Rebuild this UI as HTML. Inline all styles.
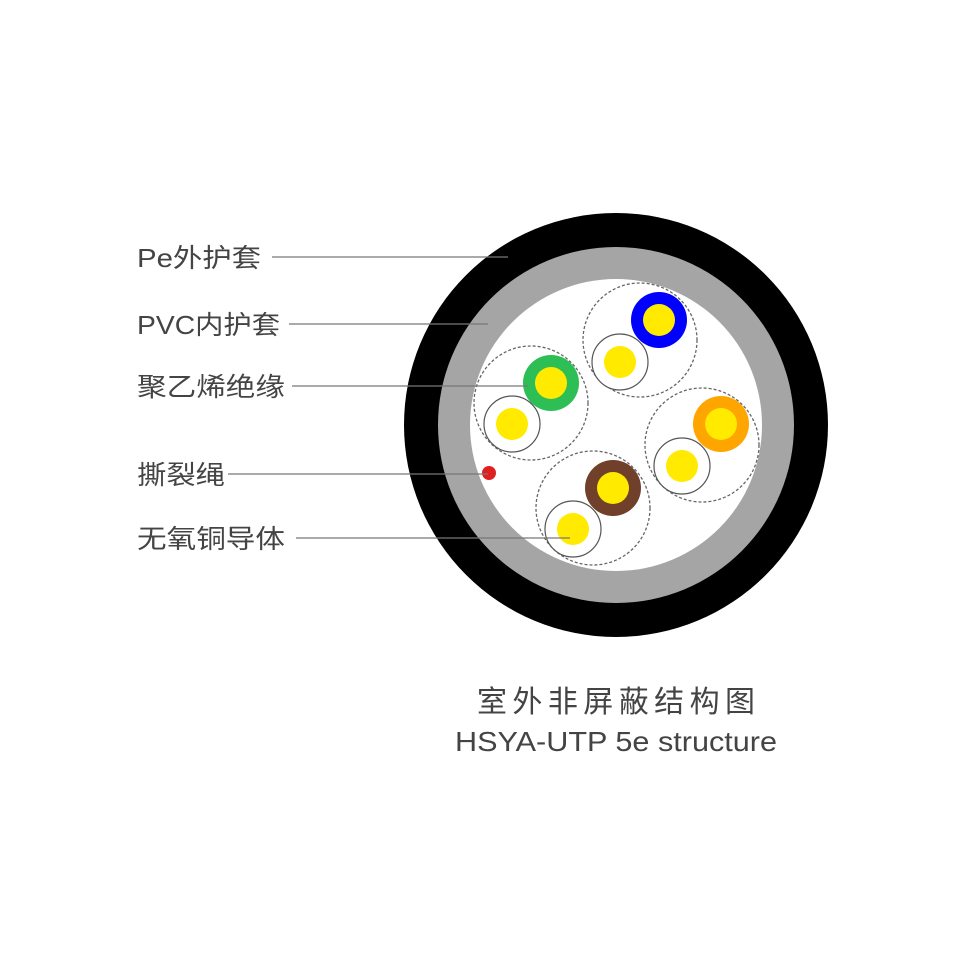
<!DOCTYPE html>
<html><head><meta charset="utf-8"><style>html,body{margin:0;padding:0;background:#fff}svg{display:block}</style></head>
<body>
<svg width="969" height="969" viewBox="0 0 969 969" xmlns="http://www.w3.org/2000/svg">
<rect width="969" height="969" fill="#fff"/>
<circle cx="616" cy="425" r="212" fill="#000"/>
<circle cx="616" cy="425" r="178" fill="#a5a5a5"/>
<circle cx="616" cy="425" r="146" fill="#fff"/>
<g fill="none" stroke="#666" stroke-width="1.3" stroke-dasharray="3 2">
<circle cx="640" cy="340" r="57"/>
<circle cx="531" cy="403" r="57"/>
<circle cx="702" cy="445" r="57"/>
<circle cx="593" cy="508" r="57"/>
</g>
<g>
<circle cx="659" cy="320" r="28" fill="#0000ff"/><circle cx="659" cy="320" r="16" fill="#ffea00"/>
<circle cx="551" cy="383" r="28" fill="#2dbe55"/><circle cx="551" cy="383" r="16" fill="#ffea00"/>
<circle cx="721" cy="424" r="28" fill="#ffa500"/><circle cx="721" cy="424" r="16" fill="#ffea00"/>
<circle cx="613" cy="488" r="28" fill="#70402a"/><circle cx="613" cy="488" r="16" fill="#ffea00"/>
</g>
<g stroke="#555" stroke-width="1.2" fill="#fff">
<circle cx="620" cy="362" r="28"/><circle cx="512" cy="424" r="28"/>
<circle cx="682" cy="466" r="28"/><circle cx="573" cy="529" r="28"/>
</g>
<g fill="#ffea00">
<circle cx="620" cy="362" r="16"/><circle cx="512" cy="424" r="16"/>
<circle cx="682" cy="466" r="16"/><circle cx="573" cy="529" r="16"/>
</g>
<circle cx="489" cy="473" r="7" fill="#e02020"/>
<g stroke="#777" stroke-width="1.3">
<line x1="272" y1="257" x2="508" y2="257"/>
<line x1="289" y1="324" x2="488" y2="324"/>
<line x1="292" y1="386" x2="528" y2="386"/>
<line x1="228" y1="474" x2="488" y2="474"/>
<line x1="296" y1="538" x2="570" y2="538"/>
</g>
<g font-family="'Liberation Sans','Noto Sans CJK SC',sans-serif" font-size="26" fill="#444">
<text x="137" y="267" textLength="124" lengthAdjust="spacingAndGlyphs">Pe外护套</text>
<text x="137" y="334" textLength="143" lengthAdjust="spacingAndGlyphs">PVC内护套</text>
<text x="137" y="396" textLength="148" lengthAdjust="spacingAndGlyphs">聚乙烯绝缘</text>
<text x="137" y="484" textLength="88" lengthAdjust="spacingAndGlyphs">撕裂绳</text>
<text x="137" y="548" textLength="148" lengthAdjust="spacingAndGlyphs">无氧铜导体</text>
<text x="477" y="712" font-size="30" textLength="278" lengthAdjust="spacing">室外非屏蔽结构图</text>
<text x="455" y="751" font-size="28" textLength="322" lengthAdjust="spacingAndGlyphs">HSYA-UTP 5e structure</text>
</g>
</svg>
</body></html>
